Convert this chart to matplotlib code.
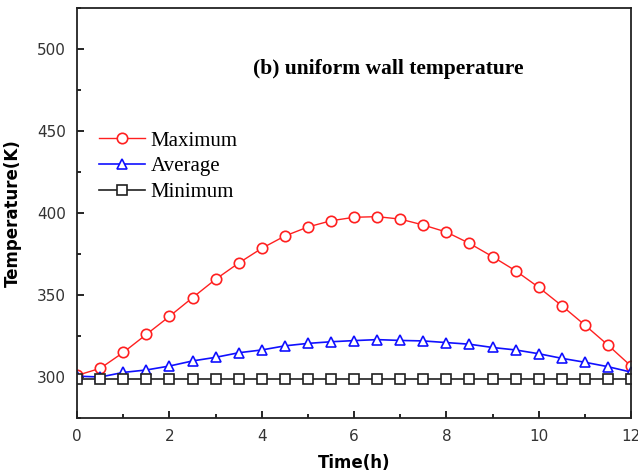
import matplotlib
matplotlib.use("Agg")
import matplotlib.pyplot as plt
from matplotlib.ticker import MultipleLocator

# time axis (hours), sampled every 0.5 h
time_h = [0, 0.5, 1, 1.5, 2, 2.5, 3, 3.5, 4, 4.5, 5, 5.5, 6, 6.5, 7, 7.5, 8,
          8.5, 9, 9.5, 10, 10.5, 11, 11.5, 12]

t_max = [301, 305.3, 315, 326, 337, 348.4, 359.6, 369.5, 378.5, 386, 391.5,
         395.3, 397.4, 397.8, 396.3, 392.7, 388.4, 381.5, 373.4, 364.8, 354.7,
         343.5, 331.7, 319.5, 306.7]
t_avg = [300.5, 300, 302.8, 304.3, 306.7, 309.8, 312, 314.8, 316.5, 319, 320.5,
         321.5, 322.2, 322.8, 322.3, 322, 321, 320, 318, 316.5, 314.2, 311.4,
         309, 306.3, 303]
t_min = [299] * len(time_h)

fig = plt.figure(figsize=(6.38, 4.75), dpi=100)
ax = fig.add_axes([0.121, 0.12, 0.868, 0.863])

ax.plot(time_h, t_max, '-o', color='#ff2020', mfc='white', mec='#ff2020',
        ms=7.5, lw=1.0, mew=1.2, label='Maximum')
ax.plot(time_h, t_avg, '-^', color='#1010ff', mfc='white', mec='#1010ff',
        ms=7.5, lw=1.2, mew=1.2, label='Average')
ax.plot(time_h, t_min, '-s', color='#202020', mfc='white', mec='#202020',
        ms=6.5, lw=1.2, mew=1.2, label='Minimum')

ax.set_xlim(0, 12)
ax.set_ylim(275, 525)
ax.xaxis.set_major_locator(MultipleLocator(2))
ax.xaxis.set_minor_locator(MultipleLocator(1))
ax.set_yticks([300, 350, 400, 450, 500])
ax.yaxis.set_minor_locator(MultipleLocator(25))
ax.tick_params(which='both', direction='in', top=False, right=False,
               labelsize=11, labelcolor='#333333', width=1.2)
ax.tick_params(which='major', length=5, pad=8)
ax.tick_params(which='minor', length=3)
for s in ax.spines.values():
    s.set_linewidth(1.3)
    s.set_color('#222222')

ax.set_xlabel('Time(h)', fontsize=12, fontweight='bold', labelpad=7)
ax.set_ylabel('Temperature(K)', fontsize=12, fontweight='bold', labelpad=11)

ax.text(0.561, 0.852, '(b) uniform wall temperature', transform=ax.transAxes,
        ha='center', va='center', fontsize=15.5, fontweight='bold',
        family='Liberation Serif')

ax.legend(loc='upper left', bbox_to_anchor=(0.04, 0.70), frameon=False,
          prop={'family': 'Liberation Serif', 'size': 15},
          handlelength=2.2, handletextpad=0.25, labelspacing=0.3,
          borderaxespad=0, borderpad=0)

fig.savefig('out.png', dpi=100)
